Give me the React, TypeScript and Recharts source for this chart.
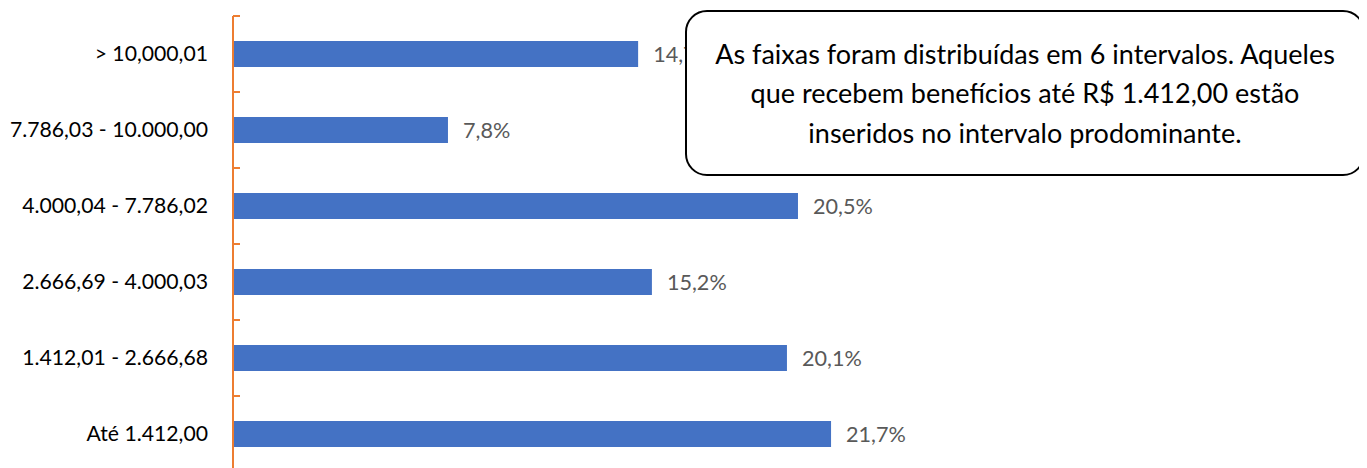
import React from 'react';
import { BarChart, Bar, XAxis, YAxis, LabelList } from 'recharts';

const faixas = [
  '> 10,000,01',
  '7.786,03 - 10.000,00',
  '4.000,04 - 7.786,02',
  '2.666,69 - 4.000,03',
  '1.412,01 - 2.666,68',
  'Até 1.412,00',
];
const percentuais = [14.7, 7.8, 20.5, 15.2, 20.1, 21.7];
const notaLinhas = [
  'As faixas foram distribuídas em 6 intervalos. Aqueles',
  'que recebem benefícios até R$ 1.412,00 estão',
  'inseridos no intervalo prodominante.',
];

const data = faixas.map((faixa, i) => ({ faixa, valor: percentuais[i] }));

const FONT = 'Lato, "Noto Sans", sans-serif';
const AXIS_W = 225;
const PLOT_H = 456;
const HALF_BAND = PLOT_H / faixas.length / 2;

const FaixaTick = (props: any) => {
  const { y, payload } = props;
  return (
    <g>
      <line x1={AXIS_W} x2={AXIS_W + 7} y1={y - HALF_BAND} y2={y - HALF_BAND} stroke="#ED7D31" strokeWidth={2} />
      <text x={AXIS_W - 25} y={y} dy={7} textAnchor="end" fill="#000" fontSize={21.2} fontFamily={FONT}>
        {payload.value}
      </text>
    </g>
  );
};

export default function App() {
  return (
    <div style={{ position: 'absolute', left: 8, top: 8, width: 1351, height: 460, overflow: 'hidden' }}>
      <BarChart
        width={1351}
        height={472}
        data={data}
        layout="vertical"
        margin={{ top: 8, right: 437, bottom: 8, left: 0 }}
      >
        <XAxis type="number" domain={[0, 25]} hide />
        <YAxis
          type="category"
          dataKey="faixa"
          width={AXIS_W}
          axisLine={{ stroke: '#ED7D31', strokeWidth: 2 }}
          tickLine={false}
          tick={<FaixaTick />}
          interval={0}
        />
        <Bar dataKey="valor" fill="#4472C4" barSize={26} isAnimationActive={false}>
          <LabelList
            dataKey="valor"
            position="right"
            offset={15}
            fill="#595959"
            fontSize={21.6}
            fontFamily={FONT}
            formatter={(v: any) => `${Number(v).toFixed(1).replace('.', ',')}%`}
          />
        </Bar>
      </BarChart>
      <div
        style={{
          position: 'absolute',
          left: 677,
          top: 2,
          width: 676,
          height: 162,
          border: '2px solid #000',
          borderRadius: 22,
          background: '#fff',
          display: 'flex',
          flexDirection: 'column',
          justifyContent: 'center',
          alignItems: 'center',
          fontFamily: FONT,
          fontSize: 27,
          lineHeight: '39.5px',
          color: '#000',
          textAlign: 'center',
        }}
      >
        {notaLinhas.map((l) => (
          <div key={l} style={{ whiteSpace: 'nowrap' }}>{l}</div>
        ))}
      </div>
    </div>
  );
}
